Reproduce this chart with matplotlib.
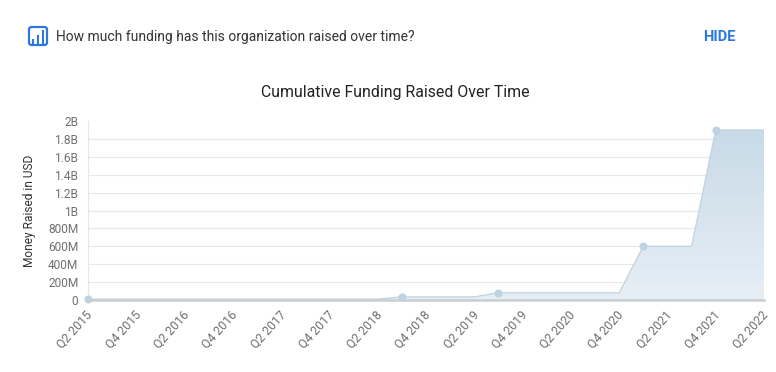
import matplotlib
matplotlib.use('Agg')
import matplotlib.pyplot as plt
import matplotlib.transforms as mtrans
import numpy as np
from matplotlib.patches import FancyBboxPatch, Rectangle

plt.rcParams['font.family'] = ['Roboto', 'DejaVu Sans']

W, H = 776, 372

# quarters since Q2 2015
quarters = [0, 12, 13, 16, 17, 22, 23, 25, 26, 28]
raised = [0.01e9, 0.01e9, 0.035e9, 0.035e9, 0.08e9, 0.08e9, 0.6e9, 0.6e9, 1.9e9, 1.9e9]
marker_quarters = [0, 13, 17, 23, 26]
marker_values = [0.01e9, 0.035e9, 0.08e9, 0.6e9, 1.9e9]

x_labels = ['Q2 2015', 'Q4 2015', 'Q2 2016', 'Q4 2016', 'Q2 2017', 'Q4 2017', 'Q2 2018', 'Q4 2018',
            'Q2 2019', 'Q4 2019', 'Q2 2020', 'Q4 2020', 'Q2 2021', 'Q4 2021', 'Q2 2022']
y_ticks = [0, 0.2e9, 0.4e9, 0.6e9, 0.8e9, 1e9, 1.2e9, 1.4e9, 1.6e9, 1.8e9, 2e9]
y_labels = ['0', '200M', '400M', '600M', '800M', '1B', '1.2B', '1.4B', '1.6B', '1.8B', '2B']

fig = plt.figure(figsize=(W / 100, H / 100), dpi=100)
ax = fig.add_axes([88 / W, 1 - 300 / H, 676 / W, 179 / H])
ax.set_xlim(0, 28)
ax.set_ylim(0, 2e9)

for s in ['top', 'right']:
    ax.spines[s].set_visible(False)
ax.spines['left'].set_color('#e6e6e6')
ax.spines['left'].set_linewidth(0.8)
ax.spines['bottom'].set_color('#c9ced2')
ax.spines['bottom'].set_linewidth(1.8)
ax.spines['bottom'].set_zorder(6)

ax.set_yticks(y_ticks)
ax.set_yticklabels(y_labels, fontsize=8.6, color='#707070')
ax.set_xticks(range(0, 29, 2))
ax.set_xticklabels(x_labels, fontsize=8.8, color='#707070', rotation=48, ha='right', rotation_mode='anchor')
ax.tick_params(axis='y', length=0, pad=7)
ax.tick_params(axis='x', length=0, pad=6)

# nudge the rotated labels left so they end by their tick
shift = mtrans.ScaledTranslation(-2.5 / 100, 0, fig.dpi_scale_trans)
for lab in ax.get_xticklabels():
    lab.set_transform(lab.get_transform() + shift)

# no line at the 2B tick in the original
for v in y_ticks[1:-1]:
    ax.axhline(v, color='#e8e8e8', linewidth=0.8, zorder=1)

# gradient fill under the line
poly = ax.fill_between(quarters, raised, 0, color='none')
grad = np.linspace(0, 1, 256).reshape(-1, 1)
cmap = matplotlib.colors.LinearSegmentedColormap.from_list('fund', ['#c3d7e5', '#e5eef5'])
im = ax.imshow(grad, extent=[0, 28, 0, 1.9e9], aspect='auto', cmap=cmap, alpha=0.92, zorder=2)
im.set_clip_path(poly.get_paths()[0], transform=ax.transData)
ax.set_xlim(0, 28)
ax.set_ylim(0, 2e9)

ax.plot(quarters, raised, color='#bfd3e0', linewidth=0.9, zorder=3)
ax.scatter(marker_quarters, marker_values, s=34, color='#bcd3e2', linewidths=0, zorder=5, clip_on=False)

fig.text(30 / W, 1 - 211 / H, 'Money Raised in USD', fontsize=8.6, color='#333333', rotation=90,
         ha='center', va='center')
fig.text(395 / W, 1 - 92.5 / H, 'Cumulative Funding Raised Over Time', fontsize=11.45, color='#222222',
         ha='center', va='center')
fig.text(56 / W, 1 - 37 / H, 'How much funding has this organization raised over time?', fontsize=10.03,
         color='#333333', ha='left', va='center')
fig.text(719.5 / W, 1 - 37 / H, 'HIDE', fontsize=10.6, color='#2b78e4', fontweight='bold', ha='center', va='center')

# chart icon in the header, pixel coordinates
ov = fig.add_axes([0, 0, 1, 1], facecolor='none')
ov.set_xlim(0, W)
ov.set_ylim(H, 0)
ov.axis('off')
ov.add_patch(FancyBboxPatch((29, 27), 18, 18, boxstyle='round,pad=0,rounding_size=2.5',
                            fc='white', ec='#2b78e4', lw=1.6))
for bx, bt in [(31.5, 38.5), (36.5, 34.5), (41.5, 30)]:
    ov.add_patch(Rectangle((bx, bt), 2.4, 45 - bt, fc='#2b78e4', ec='none'))

fig.savefig('out.png', dpi=100)
